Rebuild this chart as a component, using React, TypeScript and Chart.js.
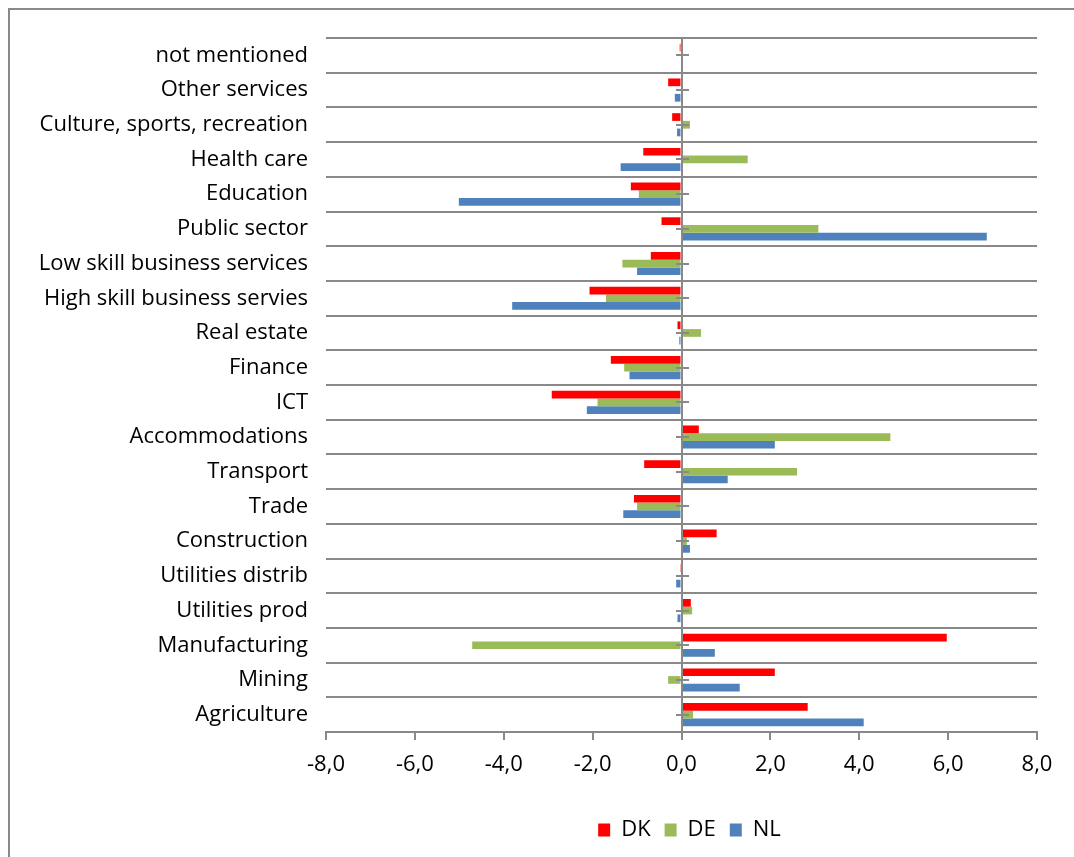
import React, { useEffect, useRef } from "react";
import { Chart, registerables } from "chart.js";

Chart.register(...registerables);

const categories: string[] = [
  "not mentioned",
  "Other services",
  "Culture, sports, recreation",
  "Health care",
  "Education",
  "Public sector",
  "Low skill business services",
  "High skill business servies",
  "Real estate",
  "Finance",
  "ICT",
  "Accommodations",
  "Transport",
  "Trade",
  "Construction",
  "Utilities distrib",
  "Utilities prod",
  "Manufacturing",
  "Mining",
  "Agriculture",
];

const dkValues: number[] = [-0.04, -0.3, -0.21, -0.86, -1.14, -0.45, -0.69, -2.07, -0.09, -1.59, -2.92, 0.39, -0.84, -1.07, 0.79, -0.03, 0.21, 5.97, 2.1, 2.84];
const deValues: number[] = [0, 0, 0.19, 1.49, -0.96, 3.08, -1.33, -1.7, 0.44, -1.29, -1.89, 4.7, 2.6, -1.0, 0.12, 0.02, 0.24, -4.71, -0.3, 0.26];
const nlValues: number[] = [0, -0.15, -0.1, -1.37, -5.01, 6.87, -1.0, -3.81, -0.05, -1.17, -2.13, 2.1, 1.04, -1.31, 0.19, -0.12, -0.09, 0.75, 1.31, 4.1];

const seriesNames: string[] = ["DK", "DE", "NL"];
const seriesColors: string[] = ["#FF0000", "#9BBB59", "#4F81BD"];

const FONT = "'Open Sans', 'Noto Sans', sans-serif";
const AXIS_GREY = "#898989";

const zeroAxisPlugin = {
  id: "zeroAxis",
  afterDatasetsDraw(chart: any) {
    const { ctx, chartArea, scales } = chart;
    const x = scales.x;
    const y = scales.y;
    const x0 = Math.round(x.getPixelForValue(0));
    ctx.save();
    ctx.strokeStyle = AXIS_GREY;
    ctx.lineWidth = 2;
    ctx.beginPath();
    ctx.moveTo(x0, chartArea.top);
    ctx.lineTo(x0, chartArea.bottom);
    categories.forEach((_, i) => {
      const yy = Math.round(y.getPixelForValue(i));
      ctx.moveTo(x0 - 6, yy);
      ctx.lineTo(x0 + 7, yy);
    });
    ctx.stroke();
    ctx.restore();
  },
};

// Center the legend under the plot area (as in the reference) rather than under the whole canvas.
const legendShiftPlugin = {
  id: "legendShift",
  afterLayout(chart: any) {
    const legend = chart.legend;
    if (!legend) return;
    const target = (chart.chartArea.left + chart.chartArea.right) / 2 + 8;
    const current = (legend.left + legend.right) / 2;
    const shift = target - current;
    legend.left += shift;
    legend.right += shift;
  },
};

export default function App() {
  const canvasRef = useRef<HTMLCanvasElement | null>(null);

  useEffect(() => {
    if (!canvasRef.current) return;
    const values = [dkValues, deValues, nlValues];
    const chart = new Chart(canvasRef.current, {
      type: "bar",
      data: {
        labels: categories,
        datasets: seriesNames.map((name, i) => ({
          label: name,
          data: values[i],
          backgroundColor: seriesColors[i],
          borderWidth: 0,
          categoryPercentage: 0.667,
          barPercentage: 1.0,
        })),
      },
      options: {
        indexAxis: "y",
        animation: false,
        responsive: false,
        maintainAspectRatio: false,
        layout: { padding: { left: 0, right: 37, top: 38, bottom: 6 } },
        plugins: {
          legend: {
            position: "bottom",
            labels: {
              color: "#000",
              font: { family: FONT, size: 22 },
              boxWidth: 12,
              boxHeight: 13,
              padding: 14,
            },
          },
          tooltip: { enabled: false },
        },
        scales: {
          x: {
            type: "linear",
            min: -8,
            max: 8,
            ticks: {
              stepSize: 2,
              color: "#000",
              font: { family: FONT, size: 22 },
              padding: 12,
              maxRotation: 0,
              callback: (v: any) => Number(v).toFixed(1).replace(".", ","),
            },
            grid: {
              drawOnChartArea: false,
              drawTicks: true,
              tickLength: 8,
              color: AXIS_GREY,
              lineWidth: 2,
            },
            border: { display: true, color: AXIS_GREY, width: 2 },
            afterFit: (scale: any) => {
              scale.height = 73;
            },
          },
          y: {
            type: "category",
            offset: true,
            ticks: {
              color: "#000",
              font: { family: FONT, size: 22 },
              padding: 18,
              autoSkip: false,
            },
            grid: {
              offset: true,
              drawTicks: false,
              color: AXIS_GREY,
              lineWidth: 2,
            },
            border: { display: false },
            afterFit: (scale: any) => {
              scale.width = 326;
            },
          },
        },
      },
      plugins: [zeroAxisPlugin, legendShiftPlugin],
    } as any);
    return () => chart.destroy();
  }, []);

  return (
    <div style={{ position: "fixed", left: 0, top: 0, width: 1074, height: 857, background: "#fff", overflow: "hidden" }}>
      <div
        style={{
          position: "absolute",
          left: 8,
          top: 8,
          width: 1200,
          height: 1000,
          borderLeft: `2px solid ${AXIS_GREY}`,
          borderTop: `2px solid ${AXIS_GREY}`,
        }}
      />
      <canvas ref={canvasRef} width={1074} height={857} style={{ position: "absolute", left: 0, top: 0 }} />
    </div>
  );
}
